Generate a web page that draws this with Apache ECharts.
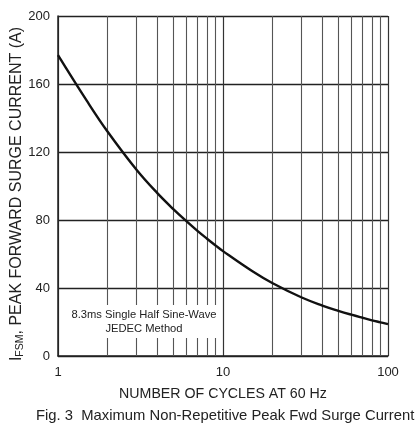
<!DOCTYPE html>
<html>
<head>
<meta charset="utf-8">
<script src="https://cdn.jsdelivr.net/npm/echarts@6/dist/echarts.min.js"></script>
<style>html,body{margin:0;padding:0;background:#fff;}#c{width:418px;height:423px;}</style>
</head>
<body>
<div id="c"></div>
<script>
var cycles = [1, 1.5, 2, 3, 4, 5, 6, 7, 8, 9, 10, 15, 20, 30, 40, 50, 60, 70, 80, 90, 100];
var surgeCurrent = [177, 149.9, 131.9, 109.4, 95.8, 86.4, 79.3, 73.6, 69.0, 65.1, 61.7, 50.0, 42.8, 34.4, 29.7, 26.6, 24.3, 22.5, 21.0, 19.8, 18.7];
var minorGridX = [2, 3, 4, 5, 6, 7, 8, 9, 20, 30, 40, 50, 60, 70, 80, 90];
var yTicks = [0, 40, 80, 120, 160, 200];
var xTicks = [1, 10, 100];

var font = '"Liberation Sans", Arial, sans-serif';
var chart = echarts.init(document.getElementById('c'));
chart.setOption({
  animation: false,
  title: {
    text: 'Fig. 3  Maximum Non-Repetitive Peak Fwd Surge Current',
    left: 31, top: 403,
    textStyle: { fontFamily: font, fontSize: 14.8, fontWeight: 'normal', color: '#222' }
  },
  grid: { left: 58, right: 30, top: 16, bottom: 67, containLabel: false, outerBoundsMode: 'none' },
  xAxis: {
    type: 'log', logBase: 10, min: xTicks[0], max: xTicks[xTicks.length - 1],
    name: 'NUMBER OF CYCLES AT 60 Hz', nameLocation: 'middle', nameGap: 31, nameMoveOverlap: false,
    nameTextStyle: { fontFamily: font, fontSize: 14.2, color: '#222' },
    axisLine: { lineStyle: { color: '#222', width: 1.5 } },
    axisTick: { show: false },
    axisLabel: { fontFamily: font, fontSize: 13, color: '#222', margin: 10 },
    splitLine: { show: true, lineStyle: { color: '#333', width: 1.2 } }
  },
  yAxis: {
    type: 'value', min: yTicks[0], max: yTicks[yTicks.length - 1], interval: 40,
    name: '{a|I}{s|FSM}{a|, PEAK FORWARD SURGE CURRENT (A)}',
    nameLocation: 'middle', nameGap: 32, nameRotate: 90, nameMoveOverlap: false,
    nameTextStyle: {
      fontFamily: font, fontSize: 16, color: '#222', padding: [0, 16, 0, 0],
      rich: {
        a: { fontFamily: font, fontSize: 16, color: '#222' },
        s: { fontFamily: font, fontSize: 10.5, color: '#222', verticalAlign: 'bottom', padding: [8, 0, 0, 0] }
      }
    },
    axisLine: { show: true, lineStyle: { color: '#222', width: 1.5 } },
    axisTick: { show: false },
    axisLabel: { fontFamily: font, fontSize: 13, color: '#222', margin: 8 },
    splitLine: { show: true, lineStyle: { color: '#222', width: 1.3 } }
  },
  series: [
    {
      type: 'line', data: [], silent: true, z: 1,
      markLine: {
        silent: true, symbol: 'none', label: { show: false },
        lineStyle: { color: '#555', width: 1.1, type: 'solid' },
        data: minorGridX.map(function (v) { return { xAxis: v }; })
      }
    },
    {
      type: 'line', smooth: 0.4, showSymbol: false, z: 5,
      lineStyle: { color: '#111', width: 2.4 },
      data: cycles.map(function (c, i) { return [c, surgeCurrent[i]]; })
    }
  ],
  graphic: [
    {
      type: 'rect', z: 100, silent: true,
      shape: { x: 68, y: 305, width: 151, height: 33 },
      style: { fill: '#fff' }
    },
    {
      type: 'text', z: 101, silent: true, x: 144, y: 322,
      style: {
        text: '8.3ms Single Half Sine-Wave\nJEDEC Method',
        fontFamily: font, fontSize: 11.2, fill: '#222',
        align: 'center', verticalAlign: 'middle', lineHeight: 14
      }
    }
  ]
});
</script>
</body>
</html>
